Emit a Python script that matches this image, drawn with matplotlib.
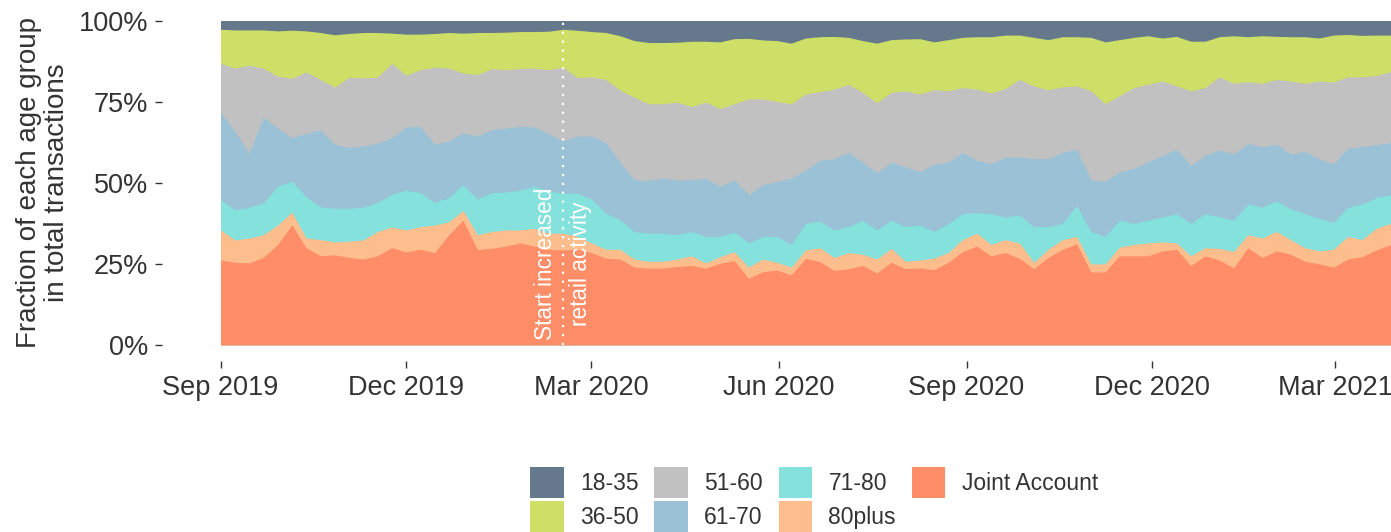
import numpy as np
import pandas as pd
import matplotlib
matplotlib.use("Agg")
import matplotlib.pyplot as plt
import matplotlib.dates as mdates
from matplotlib.patches import Patch

plt.rcParams['font.family'] = ['Liberation Sans', 'DejaVu Sans']

# weekly readings, Sep 2019 - Mar 2021
dates = pd.date_range("2019-09-01", periods=83, freq="7D")

# cumulative share (%) at the upper edge of each group (stacked from the bottom)
joint_top = [26.2, 25.5, 25.3, 27.0, 31.0, 37.0, 30.0, 27.5, 27.8, 27.0, 26.5, 27.5, 30.0, 28.7, 29.5, 28.5, 34.0,
             38.5, 29.5, 29.8, 30.5, 31.5, 30.5, 29.5, 29.3, 29.5, 28.5, 26.8, 26.5,
             24.0, 23.7, 23.7, 24.2, 24.5, 23.7, 25.2, 26.0, 20.6, 22.6, 23.1, 21.6, 26.7,
             25.7, 23.0, 23.5, 24.5, 22.2, 25.5, 23.5, 23.8, 23.2, 25.5, 28.8, 30.5, 27.5, 28.5,
             26.7, 23.5, 27.0, 29.5, 31.2, 22.5, 22.5, 27.5, 27.5, 27.5, 29.0, 29.5, 24.5, 27.5,
             26.2, 23.8, 30.0, 27.0, 29.0, 28.0, 25.8, 25.0, 24.0, 26.5, 27.2, 29.3, 30.9]
p80_top = [35.5, 32.4, 33.0, 34.0, 37.0, 41.0, 33.0, 32.5, 31.8, 32.0, 32.4, 35.0, 36.4, 35.5, 36.5, 37.0, 38.0,
           41.5, 34.0, 35.0, 35.5, 35.5, 36.0, 34.5, 34.5, 33.5, 31.5, 29.5, 29.5,
           26.5, 25.8, 25.8, 26.5, 27.5, 25.3, 27.2, 28.8, 24.0, 26.5, 25.5, 24.0, 29.3,
           30.0, 27.0, 28.5, 28.0, 26.5, 29.8, 25.8, 26.2, 26.8, 28.5, 32.5, 34.5, 31.0, 32.5,
           31.4, 25.5, 29.5, 32.5, 33.5, 25.0, 25.0, 30.2, 31.0, 31.5, 31.8, 31.5, 27.5, 30.0,
           29.8, 28.8, 34.0, 33.0, 35.0, 32.5, 30.0, 29.0, 29.5, 33.5, 32.5, 36.0, 37.5]
a71_top = [44.8, 41.7, 42.5, 43.8, 49.0, 50.5, 45.7, 42.6, 42.2, 42.2, 42.5, 44.0, 46.5, 47.8, 47.0, 44.0, 45.5,
           49.5, 45.0, 47.0, 47.2, 47.8, 49.0, 47.5, 46.8, 46.8, 45.0, 40.7, 38.6,
           35.0, 34.5, 34.5, 34.0, 35.0, 33.5, 33.5, 34.8, 31.5, 33.5, 33.5, 31.0, 37.5,
           38.2, 35.5, 36.5, 38.5, 35.5, 38.5, 36.5, 37.0, 35.0, 37.5, 40.5, 40.8, 40.5, 39.5,
           40.1, 36.5, 36.5, 37.5, 43.0, 35.0, 33.5, 38.5, 37.5, 38.5, 39.5, 40.5, 37.5, 40.5,
           39.6, 38.5, 43.5, 42.5, 44.5, 42.0, 40.5, 39.0, 37.8, 42.5, 43.5, 45.5, 46.3]
a61_top = [72.0, 66.0, 59.2, 70.4, 67.0, 64.0, 65.4, 66.4, 62.0, 61.0, 61.5, 62.3, 64.0, 67.3, 67.5, 62.0, 63.0,
           65.5, 64.5, 66.5, 67.0, 67.5, 67.3, 65.3, 63.0, 64.5, 64.5, 62.5, 56.5,
           51.0, 50.8, 51.5, 51.0, 51.0, 51.5, 49.0, 51.0, 46.5, 49.5, 50.5, 51.5, 54.0,
           57.0, 57.5, 59.5, 56.5, 53.2, 56.5, 55.0, 53.5, 55.8, 56.5, 59.5, 57.0, 56.0, 58.0,
           58.1, 57.5, 57.5, 59.5, 60.5, 51.0, 50.5, 53.5, 54.5, 56.5, 58.5, 60.5, 55.5, 58.5,
           60.2, 59.0, 62.2, 61.2, 62.0, 59.0, 59.8, 57.5, 56.0, 60.8, 61.3, 61.8, 62.5]
a51_top = [87.0, 85.5, 86.4, 85.5, 83.0, 82.4, 84.3, 82.0, 79.6, 82.7, 82.5, 82.7, 87.0, 83.3, 85.0, 85.8, 85.5,
           84.0, 83.5, 85.3, 85.0, 85.4, 85.5, 85.0, 85.8, 82.6, 82.8, 82.0, 78.7,
           76.5, 74.5, 74.5, 75.0, 73.6, 75.0, 73.0, 74.5, 76.0, 76.0, 75.2, 74.5, 77.5,
           78.2, 79.0, 80.5, 78.0, 74.8, 78.0, 78.5, 77.5, 78.8, 78.5, 79.5, 79.0, 77.8, 79.2,
           82.0, 80.0, 78.8, 79.7, 80.0, 78.5, 74.5, 77.0, 79.5, 80.5, 81.5, 80.0, 78.5, 79.5,
           82.8, 80.8, 81.3, 80.8, 82.0, 81.5, 80.8, 81.5, 81.2, 82.8, 82.8, 83.2, 84.4]
a36_top = [97.5, 97.3, 97.3, 97.3, 97.0, 97.2, 97.0, 96.5, 95.8, 96.2, 96.5, 96.5, 96.3, 96.0, 96.0, 96.2, 96.5,
           96.3, 96.5, 96.5, 96.6, 96.8, 96.8, 96.9,
           97.5, 97.2, 96.8, 96.5, 95.5, 94.0, 93.4, 93.4, 93.5, 93.8, 93.8, 93.6, 94.6, 94.7, 94.2, 94.0, 93.2, 94.8,
           95.2, 95.3, 95.0, 94.0, 93.2, 94.3, 94.5, 94.6, 93.6, 94.3, 95.0, 95.2, 95.2, 95.7,
           95.7, 95.0, 94.3, 95.2, 95.2, 95.0, 93.6, 94.3, 95.0, 95.5, 94.8, 95.3, 93.8, 93.8,
           95.2, 95.5, 95.2, 95.5, 95.3, 95.2, 95.2, 94.8, 95.7, 95.9, 95.6, 95.7, 95.7]
a18_top = [100.0] * len(dates)

groups = ["18-35", "36-50", "51-60", "61-70", "71-80", "80plus", "Joint Account"]
tops = [a18_top, a36_top, a51_top, a61_top, a71_top, p80_top, joint_top]
colors = ["#66798C", "#CDDF66", "#C1C1C1", "#9AC1D5", "#84E1DC", "#FDBD8C", "#FF8D68"]

event_date = pd.Timestamp("2020-02-16")

fig = plt.figure(figsize=(13.91, 5.32), dpi=100)
W, H = 1391, 532
# panel runs past the right edge (reference is cropped there)
ax = fig.add_axes([162 / W, 1 - 361 / H, (1449 - 162) / W, (361 - 5) / H])

# draw from the top group down so each layer covers the one above
for top, col in zip(tops, colors):
    ax.fill_between(dates, 0, np.array(top) / 100, color=col, linewidth=0)

ax.plot([event_date, event_date], [0, 1], color="white", linestyle=(0, (1, 3)), linewidth=1.6)
ax.text(event_date, 0.25, "Start increased\nretail activity", rotation=90, color="white",
        ha="center", va="center", multialignment="center", fontsize=16.3, linespacing=1.7)

pad = pd.Timedelta(days=28.7)
ax.set_xlim(dates[0] - pad, dates[-1] + pad)
ax.set_ylim(-0.05, 1.05)

ax.set_yticks([0, 0.25, 0.5, 0.75, 1.0])
ax.set_yticklabels(["0%", "25%", "50%", "75%", "100%"])
ax.xaxis.set_major_locator(mdates.MonthLocator(bymonth=[3, 6, 9, 12]))
ax.xaxis.set_major_formatter(mdates.DateFormatter("%b %Y"))
ax.tick_params(axis="both", labelsize=19.5, colors="#333333", length=5, width=1, pad=5)
for s in ax.spines.values():
    s.set_visible(False)

fig.text(43 / W, 1 - 183 / H, "Fraction of each age group\nin total transactions", rotation=90,
         ha="center", va="center", multialignment="center", fontsize=20, color="#333333", linespacing=1.1)

handles = [Patch(facecolor=c, edgecolor="none", label=g) for g, c in zip(groups, colors)]
fig.legend(handles=handles, loc="upper center", bbox_to_anchor=(814 / W, 1 - 456 / H), ncol=4,
           frameon=False, fontsize=16.5, handlelength=1.48, handleheight=1.7, handletextpad=0.7,
           columnspacing=0.68, labelspacing=0.1, borderpad=0, labelcolor="#333333")

fig.savefig("out.png", dpi=100)
